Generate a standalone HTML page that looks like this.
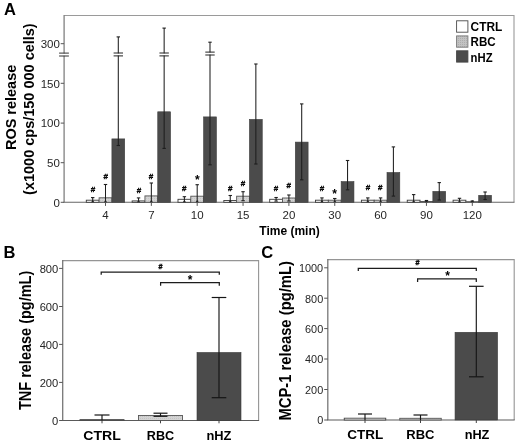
<!DOCTYPE html>
<html><head><meta charset="utf-8"><title>Figure</title>
<style>html,body{margin:0;padding:0;background:#fff}svg{display:block}text{font-family:"Liberation Sans",Arial,sans-serif}.b{font-weight:bold;fill:#000}.h{font-weight:bold;fill:#000;stroke:#000;stroke-width:0.35}.t{fill:#262626}</style></head><body>
<svg width="520" height="445" viewBox="0 0 520 445">
<defs><pattern id="dots" width="2" height="2" patternUnits="userSpaceOnUse"><rect width="2" height="2" fill="#d3d3d3"/><rect width="1" height="1" fill="#c4c4c4"/></pattern><pattern id="dots2" width="2" height="2" patternUnits="userSpaceOnUse"><rect width="2" height="2" fill="#c2c2c2"/><rect width="1" height="1" fill="#adadad"/></pattern></defs>
<rect width="520" height="445" fill="#fff"/>
<path d="M64.1 15.5H514.0V202.3" fill="none" stroke="#9a9a9a" stroke-width="1.1"/>
<line x1="64.10" y1="15.00" x2="64.10" y2="202.30" stroke="#808080" stroke-width="1.3"/>
<line x1="63.50" y1="202.30" x2="514.50" y2="202.30" stroke="#666" stroke-width="1.1"/>
<line x1="60.70" y1="43.70" x2="64.10" y2="43.70" stroke="#555" stroke-width="1"/>
<text x="59.90" y="47.90" font-size="11.5" class="t" text-anchor="end">300</text>
<line x1="60.70" y1="83.30" x2="64.10" y2="83.30" stroke="#555" stroke-width="1"/>
<text x="59.90" y="87.50" font-size="11.5" class="t" text-anchor="end">150</text>
<line x1="60.70" y1="123.10" x2="64.10" y2="123.10" stroke="#555" stroke-width="1"/>
<text x="59.90" y="127.30" font-size="11.5" class="t" text-anchor="end">100</text>
<line x1="60.70" y1="162.70" x2="64.10" y2="162.70" stroke="#555" stroke-width="1"/>
<text x="59.90" y="166.90" font-size="11.5" class="t" text-anchor="end">50</text>
<line x1="60.70" y1="202.30" x2="64.10" y2="202.30" stroke="#555" stroke-width="1"/>
<text x="59.90" y="206.50" font-size="11.5" class="t" text-anchor="end">0</text>
<rect x="62.60" y="53.50" width="3.00" height="2.20" fill="#fff"/>
<line x1="59.10" y1="53.10" x2="68.90" y2="53.10" stroke="#333" stroke-width="1.0"/>
<line x1="59.10" y1="56.00" x2="68.90" y2="56.00" stroke="#333" stroke-width="1.0"/>
<rect x="86.30" y="200.20" width="12.80" height="2.10" fill="#fff" stroke="#3a3a3a" stroke-width="0.9"/>
<rect x="99.10" y="197.80" width="12.80" height="4.50" fill="url(#dots)" stroke="#555" stroke-width="0.9"/>
<rect x="111.90" y="138.90" width="12.80" height="63.40" fill="#4b4b4b" stroke="#3c3c3c" stroke-width="0.6"/>
<line x1="92.70" y1="197.60" x2="92.70" y2="202.10" stroke="#1e1e1e" stroke-width="1.05"/>
<line x1="91.00" y1="197.60" x2="94.40" y2="197.60" stroke="#1e1e1e" stroke-width="1.1"/>
<path d="M91.10 202.30L92.70 200.10L94.30 202.30Z" fill="#222"/>
<line x1="105.50" y1="184.50" x2="105.50" y2="202.10" stroke="#1e1e1e" stroke-width="1.05"/>
<line x1="103.80" y1="184.50" x2="107.20" y2="184.50" stroke="#1e1e1e" stroke-width="1.1"/>
<path d="M103.90 202.30L105.50 200.10L107.10 202.30Z" fill="#222"/>
<line x1="118.30" y1="36.90" x2="118.30" y2="145.50" stroke="#1e1e1e" stroke-width="1.05"/>
<line x1="116.60" y1="36.90" x2="120.00" y2="36.90" stroke="#1e1e1e" stroke-width="1.1"/>
<line x1="116.60" y1="145.50" x2="120.00" y2="145.50" stroke="#1e1e1e" stroke-width="1.1"/>
<rect x="116.80" y="53.40" width="3.00" height="2.10" fill="#fff"/>
<line x1="113.60" y1="53.00" x2="123.00" y2="53.00" stroke="#222" stroke-width="1.0"/>
<line x1="113.60" y1="55.90" x2="123.00" y2="55.90" stroke="#222" stroke-width="1.0"/>
<line x1="105.50" y1="202.30" x2="105.50" y2="205.90" stroke="#555" stroke-width="1"/>
<text x="105.50" y="219.20" font-size="11.5" class="t" text-anchor="middle">4</text>
<rect x="132.15" y="200.90" width="12.80" height="1.40" fill="#fff" stroke="#3a3a3a" stroke-width="0.9"/>
<rect x="144.95" y="195.90" width="12.80" height="6.40" fill="url(#dots)" stroke="#555" stroke-width="0.9"/>
<rect x="157.75" y="111.80" width="12.80" height="90.50" fill="#4b4b4b" stroke="#3c3c3c" stroke-width="0.6"/>
<line x1="138.55" y1="197.90" x2="138.55" y2="202.10" stroke="#1e1e1e" stroke-width="1.05"/>
<line x1="136.85" y1="197.90" x2="140.25" y2="197.90" stroke="#1e1e1e" stroke-width="1.1"/>
<path d="M136.95 202.30L138.55 200.10L140.15 202.30Z" fill="#222"/>
<line x1="151.35" y1="183.00" x2="151.35" y2="202.10" stroke="#1e1e1e" stroke-width="1.05"/>
<line x1="149.65" y1="183.00" x2="153.05" y2="183.00" stroke="#1e1e1e" stroke-width="1.1"/>
<path d="M149.75 202.30L151.35 200.10L152.95 202.30Z" fill="#222"/>
<line x1="164.15" y1="28.10" x2="164.15" y2="148.40" stroke="#1e1e1e" stroke-width="1.05"/>
<line x1="162.45" y1="28.10" x2="165.85" y2="28.10" stroke="#1e1e1e" stroke-width="1.1"/>
<line x1="162.45" y1="148.40" x2="165.85" y2="148.40" stroke="#1e1e1e" stroke-width="1.1"/>
<rect x="162.65" y="53.40" width="3.00" height="2.10" fill="#fff"/>
<line x1="159.45" y1="53.00" x2="168.85" y2="53.00" stroke="#222" stroke-width="1.0"/>
<line x1="159.45" y1="55.90" x2="168.85" y2="55.90" stroke="#222" stroke-width="1.0"/>
<line x1="151.35" y1="202.30" x2="151.35" y2="205.90" stroke="#555" stroke-width="1"/>
<text x="151.35" y="219.20" font-size="11.5" class="t" text-anchor="middle">7</text>
<rect x="178.00" y="199.30" width="12.80" height="3.00" fill="#fff" stroke="#3a3a3a" stroke-width="0.9"/>
<rect x="190.80" y="196.20" width="12.80" height="6.10" fill="url(#dots)" stroke="#555" stroke-width="0.9"/>
<rect x="203.60" y="116.90" width="12.80" height="85.40" fill="#4b4b4b" stroke="#3c3c3c" stroke-width="0.6"/>
<line x1="184.40" y1="196.70" x2="184.40" y2="201.90" stroke="#1e1e1e" stroke-width="1.05"/>
<line x1="182.70" y1="196.70" x2="186.10" y2="196.70" stroke="#1e1e1e" stroke-width="1.1"/>
<path d="M182.80 202.30L184.40 200.10L186.00 202.30Z" fill="#222"/>
<line x1="197.20" y1="184.70" x2="197.20" y2="202.10" stroke="#1e1e1e" stroke-width="1.05"/>
<line x1="195.50" y1="184.70" x2="198.90" y2="184.70" stroke="#1e1e1e" stroke-width="1.1"/>
<path d="M195.60 202.30L197.20 200.10L198.80 202.30Z" fill="#222"/>
<line x1="210.00" y1="42.20" x2="210.00" y2="164.80" stroke="#1e1e1e" stroke-width="1.05"/>
<line x1="208.30" y1="42.20" x2="211.70" y2="42.20" stroke="#1e1e1e" stroke-width="1.1"/>
<line x1="208.30" y1="164.80" x2="211.70" y2="164.80" stroke="#1e1e1e" stroke-width="1.1"/>
<rect x="208.50" y="52.50" width="3.00" height="2.10" fill="#fff"/>
<line x1="205.30" y1="52.10" x2="214.70" y2="52.10" stroke="#222" stroke-width="1.0"/>
<line x1="205.30" y1="55.00" x2="214.70" y2="55.00" stroke="#222" stroke-width="1.0"/>
<line x1="197.20" y1="202.30" x2="197.20" y2="205.90" stroke="#555" stroke-width="1"/>
<text x="197.20" y="219.20" font-size="11.5" class="t" text-anchor="middle">10</text>
<rect x="223.85" y="200.50" width="12.80" height="1.80" fill="#fff" stroke="#3a3a3a" stroke-width="0.9"/>
<rect x="236.65" y="196.20" width="12.80" height="6.10" fill="url(#dots)" stroke="#555" stroke-width="0.9"/>
<rect x="249.45" y="119.40" width="12.80" height="82.90" fill="#4b4b4b" stroke="#3c3c3c" stroke-width="0.6"/>
<line x1="230.25" y1="195.50" x2="230.25" y2="202.10" stroke="#1e1e1e" stroke-width="1.05"/>
<line x1="228.55" y1="195.50" x2="231.95" y2="195.50" stroke="#1e1e1e" stroke-width="1.1"/>
<path d="M228.65 202.30L230.25 200.10L231.85 202.30Z" fill="#222"/>
<line x1="243.05" y1="191.70" x2="243.05" y2="200.70" stroke="#1e1e1e" stroke-width="1.05"/>
<line x1="241.35" y1="191.70" x2="244.75" y2="191.70" stroke="#1e1e1e" stroke-width="1.1"/>
<line x1="241.35" y1="200.70" x2="244.75" y2="200.70" stroke="#1e1e1e" stroke-width="1.1"/>
<line x1="255.85" y1="64.00" x2="255.85" y2="164.00" stroke="#1e1e1e" stroke-width="1.05"/>
<line x1="254.15" y1="64.00" x2="257.55" y2="64.00" stroke="#1e1e1e" stroke-width="1.1"/>
<line x1="254.15" y1="164.00" x2="257.55" y2="164.00" stroke="#1e1e1e" stroke-width="1.1"/>
<line x1="243.05" y1="202.30" x2="243.05" y2="205.90" stroke="#555" stroke-width="1"/>
<text x="243.05" y="219.20" font-size="11.5" class="t" text-anchor="middle">15</text>
<rect x="269.70" y="199.30" width="12.80" height="3.00" fill="#fff" stroke="#3a3a3a" stroke-width="0.9"/>
<rect x="282.50" y="198.00" width="12.80" height="4.30" fill="url(#dots)" stroke="#555" stroke-width="0.9"/>
<rect x="295.30" y="142.10" width="12.80" height="60.20" fill="#4b4b4b" stroke="#3c3c3c" stroke-width="0.6"/>
<line x1="276.10" y1="197.50" x2="276.10" y2="201.10" stroke="#1e1e1e" stroke-width="1.05"/>
<line x1="274.40" y1="197.50" x2="277.80" y2="197.50" stroke="#1e1e1e" stroke-width="1.1"/>
<line x1="274.40" y1="201.10" x2="277.80" y2="201.10" stroke="#1e1e1e" stroke-width="1.1"/>
<line x1="288.90" y1="195.00" x2="288.90" y2="201.00" stroke="#1e1e1e" stroke-width="1.05"/>
<line x1="287.20" y1="195.00" x2="290.60" y2="195.00" stroke="#1e1e1e" stroke-width="1.1"/>
<line x1="287.20" y1="201.00" x2="290.60" y2="201.00" stroke="#1e1e1e" stroke-width="1.1"/>
<line x1="301.70" y1="103.90" x2="301.70" y2="179.80" stroke="#1e1e1e" stroke-width="1.05"/>
<line x1="300.00" y1="103.90" x2="303.40" y2="103.90" stroke="#1e1e1e" stroke-width="1.1"/>
<line x1="300.00" y1="179.80" x2="303.40" y2="179.80" stroke="#1e1e1e" stroke-width="1.1"/>
<line x1="288.90" y1="202.30" x2="288.90" y2="205.90" stroke="#555" stroke-width="1"/>
<text x="288.90" y="219.20" font-size="11.5" class="t" text-anchor="middle">20</text>
<rect x="315.55" y="200.20" width="12.80" height="2.10" fill="#fff" stroke="#3a3a3a" stroke-width="0.9"/>
<rect x="328.35" y="200.20" width="12.80" height="2.10" fill="url(#dots)" stroke="#555" stroke-width="0.9"/>
<rect x="341.15" y="181.60" width="12.80" height="20.70" fill="#4b4b4b" stroke="#3c3c3c" stroke-width="0.6"/>
<line x1="321.95" y1="197.90" x2="321.95" y2="202.10" stroke="#1e1e1e" stroke-width="1.05"/>
<line x1="320.25" y1="197.90" x2="323.65" y2="197.90" stroke="#1e1e1e" stroke-width="1.1"/>
<path d="M320.35 202.30L321.95 200.10L323.55 202.30Z" fill="#222"/>
<line x1="334.75" y1="198.50" x2="334.75" y2="201.90" stroke="#1e1e1e" stroke-width="1.05"/>
<line x1="333.05" y1="198.50" x2="336.45" y2="198.50" stroke="#1e1e1e" stroke-width="1.1"/>
<path d="M333.15 202.30L334.75 200.10L336.35 202.30Z" fill="#222"/>
<line x1="347.55" y1="160.50" x2="347.55" y2="189.80" stroke="#1e1e1e" stroke-width="1.05"/>
<line x1="345.85" y1="160.50" x2="349.25" y2="160.50" stroke="#1e1e1e" stroke-width="1.1"/>
<line x1="345.85" y1="189.80" x2="349.25" y2="189.80" stroke="#1e1e1e" stroke-width="1.1"/>
<line x1="334.75" y1="202.30" x2="334.75" y2="205.90" stroke="#555" stroke-width="1"/>
<text x="334.75" y="219.20" font-size="11.5" class="t" text-anchor="middle">30</text>
<rect x="361.40" y="200.20" width="12.80" height="2.10" fill="#fff" stroke="#3a3a3a" stroke-width="0.9"/>
<rect x="374.20" y="200.20" width="12.80" height="2.10" fill="url(#dots)" stroke="#555" stroke-width="0.9"/>
<rect x="387.00" y="172.50" width="12.80" height="29.80" fill="#4b4b4b" stroke="#3c3c3c" stroke-width="0.6"/>
<line x1="367.80" y1="197.90" x2="367.80" y2="202.10" stroke="#1e1e1e" stroke-width="1.05"/>
<line x1="366.10" y1="197.90" x2="369.50" y2="197.90" stroke="#1e1e1e" stroke-width="1.1"/>
<path d="M366.20 202.30L367.80 200.10L369.40 202.30Z" fill="#222"/>
<line x1="380.60" y1="197.90" x2="380.60" y2="202.10" stroke="#1e1e1e" stroke-width="1.05"/>
<line x1="378.90" y1="197.90" x2="382.30" y2="197.90" stroke="#1e1e1e" stroke-width="1.1"/>
<path d="M379.00 202.30L380.60 200.10L382.20 202.30Z" fill="#222"/>
<line x1="393.40" y1="146.90" x2="393.40" y2="196.10" stroke="#1e1e1e" stroke-width="1.05"/>
<line x1="391.70" y1="146.90" x2="395.10" y2="146.90" stroke="#1e1e1e" stroke-width="1.1"/>
<line x1="391.70" y1="196.10" x2="395.10" y2="196.10" stroke="#1e1e1e" stroke-width="1.1"/>
<line x1="380.60" y1="202.30" x2="380.60" y2="205.90" stroke="#555" stroke-width="1"/>
<text x="380.60" y="219.20" font-size="11.5" class="t" text-anchor="middle">60</text>
<rect x="407.25" y="200.20" width="12.80" height="2.10" fill="#fff" stroke="#3a3a3a" stroke-width="0.9"/>
<rect x="420.05" y="201.50" width="12.80" height="0.80" fill="url(#dots)" stroke="#555" stroke-width="0.9"/>
<rect x="432.85" y="191.40" width="12.80" height="10.90" fill="#4b4b4b" stroke="#3c3c3c" stroke-width="0.6"/>
<line x1="413.65" y1="194.60" x2="413.65" y2="202.10" stroke="#1e1e1e" stroke-width="1.05"/>
<line x1="411.95" y1="194.60" x2="415.35" y2="194.60" stroke="#1e1e1e" stroke-width="1.1"/>
<path d="M412.05 202.30L413.65 200.10L415.25 202.30Z" fill="#222"/>
<line x1="426.45" y1="200.50" x2="426.45" y2="202.10" stroke="#1e1e1e" stroke-width="1.05"/>
<line x1="424.75" y1="200.50" x2="428.15" y2="200.50" stroke="#1e1e1e" stroke-width="1.1"/>
<path d="M424.85 202.30L426.45 200.10L428.05 202.30Z" fill="#222"/>
<line x1="439.25" y1="182.60" x2="439.25" y2="200.00" stroke="#1e1e1e" stroke-width="1.05"/>
<line x1="437.55" y1="182.60" x2="440.95" y2="182.60" stroke="#1e1e1e" stroke-width="1.1"/>
<line x1="437.55" y1="200.00" x2="440.95" y2="200.00" stroke="#1e1e1e" stroke-width="1.1"/>
<line x1="426.45" y1="202.30" x2="426.45" y2="205.90" stroke="#555" stroke-width="1"/>
<text x="426.45" y="219.20" font-size="11.5" class="t" text-anchor="middle">90</text>
<rect x="453.10" y="200.20" width="12.80" height="2.10" fill="#fff" stroke="#3a3a3a" stroke-width="0.9"/>
<rect x="465.90" y="201.70" width="12.80" height="0.60" fill="url(#dots)" stroke="#555" stroke-width="0.9"/>
<rect x="478.70" y="195.30" width="12.80" height="7.00" fill="#4b4b4b" stroke="#3c3c3c" stroke-width="0.6"/>
<line x1="459.50" y1="198.30" x2="459.50" y2="202.10" stroke="#1e1e1e" stroke-width="1.05"/>
<line x1="457.80" y1="198.30" x2="461.20" y2="198.30" stroke="#1e1e1e" stroke-width="1.1"/>
<path d="M457.90 202.30L459.50 200.10L461.10 202.30Z" fill="#222"/>
<line x1="472.30" y1="201.00" x2="472.30" y2="202.10" stroke="#1e1e1e" stroke-width="1.05"/>
<line x1="470.60" y1="201.00" x2="474.00" y2="201.00" stroke="#1e1e1e" stroke-width="1.1"/>
<path d="M470.70 202.30L472.30 200.10L473.90 202.30Z" fill="#222"/>
<line x1="485.10" y1="192.00" x2="485.10" y2="199.50" stroke="#1e1e1e" stroke-width="1.05"/>
<line x1="483.40" y1="192.00" x2="486.80" y2="192.00" stroke="#1e1e1e" stroke-width="1.1"/>
<line x1="483.40" y1="199.50" x2="486.80" y2="199.50" stroke="#1e1e1e" stroke-width="1.1"/>
<line x1="472.30" y1="202.30" x2="472.30" y2="205.90" stroke="#555" stroke-width="1"/>
<text x="472.30" y="219.20" font-size="11.5" class="t" text-anchor="middle">120</text>
<text x="93.00" y="192.20" font-size="8" class="h" text-anchor="middle">#</text>
<text x="105.80" y="179.20" font-size="8" class="h" text-anchor="middle">#</text>
<text x="139.00" y="192.70" font-size="8" class="h" text-anchor="middle">#</text>
<text x="151.00" y="178.70" font-size="8" class="h" text-anchor="middle">#</text>
<text x="184.30" y="191.40" font-size="8" class="h" text-anchor="middle">#</text>
<text x="197.40" y="184.00" font-size="12" class="b" text-anchor="middle">*</text>
<text x="230.30" y="190.90" font-size="8" class="h" text-anchor="middle">#</text>
<text x="243.00" y="185.90" font-size="8" class="h" text-anchor="middle">#</text>
<text x="276.10" y="191.40" font-size="8" class="h" text-anchor="middle">#</text>
<text x="288.70" y="187.60" font-size="8" class="h" text-anchor="middle">#</text>
<text x="322.00" y="190.70" font-size="8" class="h" text-anchor="middle">#</text>
<text x="334.60" y="197.60" font-size="12" class="b" text-anchor="middle">*</text>
<text x="368.00" y="190.40" font-size="8" class="h" text-anchor="middle">#</text>
<text x="380.30" y="190.40" font-size="8" class="h" text-anchor="middle">#</text>
<rect x="456.60" y="20.80" width="11.30" height="11.40" fill="#fff" stroke="#4a4a4a" stroke-width="0.9"/>
<rect x="456.60" y="35.90" width="11.30" height="11.30" fill="url(#dots2)" stroke="#777" stroke-width="0.9"/>
<rect x="456.60" y="50.80" width="11.30" height="11.30" fill="#4b4b4b" stroke="#444" stroke-width="0.9"/>
<text x="470.60" y="31.10" font-size="11.9" class="b" text-anchor="start">CTRL</text>
<text transform="translate(470.60,45.60) scale(0.975,1)" font-size="11.9" class="b" text-anchor="start">RBC</text>
<text transform="translate(470.60,61.50) scale(0.95,1)" font-size="11.9" class="b" text-anchor="start">nHZ</text>
<text x="289.50" y="235.30" font-size="12" class="b" text-anchor="middle">Time (min)</text>
<text transform="translate(16.00,107.40) rotate(-90) scale(1,1.04)" font-size="14.5" class="b" text-anchor="middle">ROS release</text>
<text transform="translate(34.30,109.10) rotate(-90) scale(1,1.04)" font-size="14.5" class="b" text-anchor="middle">(x1000 cps/150 000 cells)</text>
<text x="4.00" y="15.00" font-size="16.5" class="b" text-anchor="start">A</text>
<path d="M62.7 260.6H258.6V420.5" fill="none" stroke="#959595" stroke-width="1.1"/>
<line x1="62.70" y1="260.10" x2="62.70" y2="420.50" stroke="#777" stroke-width="1.3"/>
<line x1="62.10" y1="420.50" x2="259.10" y2="420.50" stroke="#5a5a5a" stroke-width="1.2"/>
<line x1="59.10" y1="268.40" x2="62.70" y2="268.40" stroke="#555" stroke-width="1"/>
<text x="58.30" y="272.90" font-size="11.2" class="t" text-anchor="end">800</text>
<line x1="59.10" y1="306.50" x2="62.70" y2="306.50" stroke="#555" stroke-width="1"/>
<text x="58.30" y="311.00" font-size="11.2" class="t" text-anchor="end">600</text>
<line x1="59.10" y1="344.40" x2="62.70" y2="344.40" stroke="#555" stroke-width="1"/>
<text x="58.30" y="348.90" font-size="11.2" class="t" text-anchor="end">400</text>
<line x1="59.10" y1="382.40" x2="62.70" y2="382.40" stroke="#555" stroke-width="1"/>
<text x="58.30" y="386.90" font-size="11.2" class="t" text-anchor="end">200</text>
<line x1="59.10" y1="420.50" x2="62.70" y2="420.50" stroke="#555" stroke-width="1"/>
<text x="58.30" y="425.00" font-size="11.2" class="t" text-anchor="end">0</text>
<rect x="80.00" y="419.60" width="44.00" height="0.90" fill="#fff" stroke="#444" stroke-width="0.9"/>
<line x1="102.00" y1="415.00" x2="102.00" y2="420.50" stroke="#161616" stroke-width="1.15"/>
<line x1="94.50" y1="415.00" x2="109.50" y2="415.00" stroke="#161616" stroke-width="1.2"/>
<line x1="102.00" y1="420.50" x2="102.00" y2="423.30" stroke="#444" stroke-width="1"/>
<rect x="138.50" y="415.50" width="44.00" height="5.00" fill="url(#dots)" stroke="#555" stroke-width="0.9"/>
<line x1="160.50" y1="413.20" x2="160.50" y2="416.30" stroke="#161616" stroke-width="1.15"/>
<line x1="153.50" y1="413.20" x2="167.50" y2="413.20" stroke="#161616" stroke-width="1.2"/>
<line x1="153.50" y1="416.30" x2="167.50" y2="416.30" stroke="#161616" stroke-width="1.2"/>
<line x1="160.50" y1="420.50" x2="160.50" y2="423.30" stroke="#444" stroke-width="1"/>
<rect x="197.00" y="352.50" width="44.00" height="68.00" fill="#4b4b4b" stroke="#3a3a3a" stroke-width="0.6"/>
<line x1="219.00" y1="297.50" x2="219.00" y2="397.70" stroke="#161616" stroke-width="1.15"/>
<line x1="211.70" y1="297.50" x2="226.30" y2="297.50" stroke="#161616" stroke-width="1.2"/>
<line x1="211.70" y1="397.70" x2="226.30" y2="397.70" stroke="#161616" stroke-width="1.2"/>
<line x1="219.00" y1="420.50" x2="219.00" y2="423.30" stroke="#444" stroke-width="1"/>
<text transform="translate(102.00,439.50) scale(1.07,1)" font-size="13.2" class="b" text-anchor="middle">CTRL</text>
<text transform="translate(160.50,439.50) scale(0.96,1)" font-size="13.2" class="b" text-anchor="middle">RBC</text>
<text transform="translate(218.90,439.50) scale(0.975,1)" font-size="13.2" class="b" text-anchor="middle">nHZ</text>
<path d="M101.2 274.8V272.1H219.3V274.8" fill="none" stroke="#1c1c1c" stroke-width="1.25"/>
<path d="M160.6 285.8V282.6H219.3V285.8" fill="none" stroke="#1c1c1c" stroke-width="1.25"/>
<text x="160.50" y="268.80" font-size="7.2" class="h" text-anchor="middle">#</text>
<text x="190.20" y="283.90" font-size="12" class="b" text-anchor="middle">*</text>
<text transform="translate(31.30,340.40) rotate(-90) scale(1,1.08)" font-size="14.5" class="b" text-anchor="middle">TNF release (pg/mL)</text>
<text x="3.40" y="257.80" font-size="16.5" class="b" text-anchor="start">B</text>
<path d="M327.8 259.6H514.2V420.0" fill="none" stroke="#959595" stroke-width="1.1"/>
<line x1="327.80" y1="259.10" x2="327.80" y2="420.00" stroke="#777" stroke-width="1.3"/>
<line x1="327.20" y1="420.00" x2="514.70" y2="420.00" stroke="#5a5a5a" stroke-width="1.2"/>
<line x1="324.20" y1="267.80" x2="327.80" y2="267.80" stroke="#555" stroke-width="1"/>
<text x="323.20" y="272.10" font-size="10.9" class="t" text-anchor="end">1000</text>
<line x1="324.20" y1="298.20" x2="327.80" y2="298.20" stroke="#555" stroke-width="1"/>
<text x="323.20" y="302.50" font-size="10.9" class="t" text-anchor="end">800</text>
<line x1="324.20" y1="328.60" x2="327.80" y2="328.60" stroke="#555" stroke-width="1"/>
<text x="323.20" y="332.90" font-size="10.9" class="t" text-anchor="end">600</text>
<line x1="324.20" y1="359.00" x2="327.80" y2="359.00" stroke="#555" stroke-width="1"/>
<text x="323.20" y="363.30" font-size="10.9" class="t" text-anchor="end">400</text>
<line x1="324.20" y1="389.50" x2="327.80" y2="389.50" stroke="#555" stroke-width="1"/>
<text x="323.20" y="393.80" font-size="10.9" class="t" text-anchor="end">200</text>
<line x1="324.20" y1="420.00" x2="327.80" y2="420.00" stroke="#555" stroke-width="1"/>
<text x="323.20" y="424.30" font-size="10.9" class="t" text-anchor="end">0</text>
<rect x="344.25" y="418.20" width="41.50" height="1.80" fill="#fff" stroke="#444" stroke-width="0.9"/>
<line x1="365.00" y1="414.00" x2="365.00" y2="420.00" stroke="#161616" stroke-width="1.15"/>
<line x1="358.00" y1="414.00" x2="372.00" y2="414.00" stroke="#161616" stroke-width="1.2"/>
<line x1="365.00" y1="420.00" x2="365.00" y2="423.00" stroke="#444" stroke-width="1"/>
<rect x="399.75" y="418.30" width="41.50" height="1.70" fill="url(#dots)" stroke="#555" stroke-width="0.9"/>
<line x1="420.50" y1="415.00" x2="420.50" y2="420.00" stroke="#161616" stroke-width="1.15"/>
<line x1="413.50" y1="415.00" x2="427.50" y2="415.00" stroke="#161616" stroke-width="1.2"/>
<line x1="420.50" y1="420.00" x2="420.50" y2="423.00" stroke="#444" stroke-width="1"/>
<rect x="455.05" y="332.30" width="42.50" height="87.70" fill="#4b4b4b" stroke="#3a3a3a" stroke-width="0.6"/>
<line x1="476.30" y1="286.30" x2="476.30" y2="376.80" stroke="#161616" stroke-width="1.15"/>
<line x1="469.00" y1="286.30" x2="483.60" y2="286.30" stroke="#161616" stroke-width="1.2"/>
<line x1="469.00" y1="376.80" x2="483.60" y2="376.80" stroke="#161616" stroke-width="1.2"/>
<line x1="476.30" y1="420.00" x2="476.30" y2="423.00" stroke="#444" stroke-width="1"/>
<text transform="translate(365.20,438.70) scale(1.04,1)" font-size="13" class="b" text-anchor="middle">CTRL</text>
<text x="420.40" y="438.70" font-size="13" class="b" text-anchor="middle">RBC</text>
<text transform="translate(477.00,438.70) scale(0.98,1)" font-size="13" class="b" text-anchor="middle">nHZ</text>
<path d="M358.3 271V268.3H476.3V271" fill="none" stroke="#1c1c1c" stroke-width="1.25"/>
<path d="M417.6 281.9V278.8H476.3V281.9" fill="none" stroke="#1c1c1c" stroke-width="1.25"/>
<text x="417.50" y="265.10" font-size="7.2" class="h" text-anchor="middle">#</text>
<text x="447.70" y="280.40" font-size="12" class="b" text-anchor="middle">*</text>
<text transform="translate(290.60,340.80) rotate(-90) scale(1,1.07)" font-size="14.8" class="b" text-anchor="middle">MCP-1 release (pg/mL)</text>
<text x="261.20" y="258.00" font-size="16.5" class="b" text-anchor="start">C</text>
</svg></body></html>
